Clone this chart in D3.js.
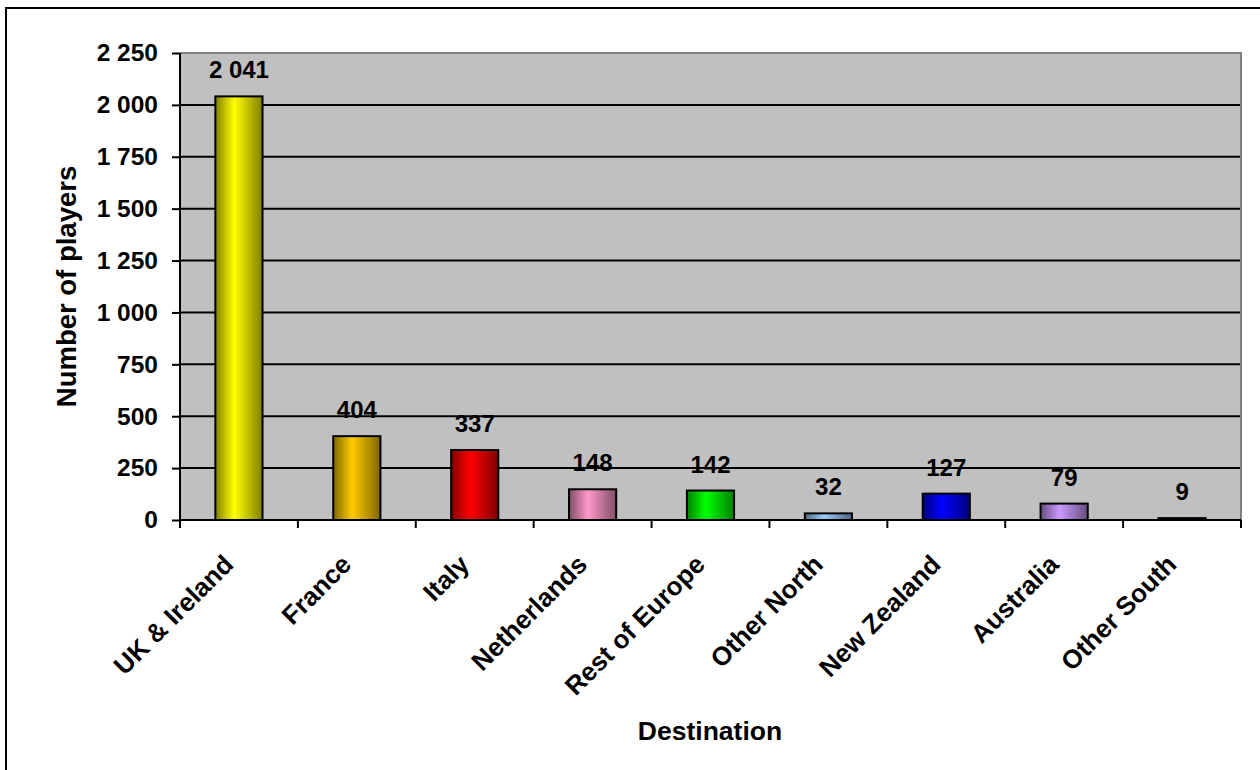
<!DOCTYPE html>
<html>
<head>
<meta charset="utf-8">
<script src="https://cdn.jsdelivr.net/npm/d3@7"></script>
<style>
  html, body { margin: 0; padding: 0; background: #fff; }
  svg { display: block; font-family: "Liberation Sans", Arial, sans-serif; font-weight: bold; }
</style>
</head>
<body>
<svg id="chart" width="1260" height="770"></svg>
<script>
// Players abroad by destination
const categories = ["UK & Ireland", "France", "Italy", "Netherlands", "Rest of Europe",
                    "Other North", "New Zealand", "Australia", "Other South"];
const players = [2041, 404, 337, 148, 142, 32, 127, 79, 9];
const barColors = ["#FFFF00", "#FFCC00", "#FF0000", "#FF99CC", "#00FF00",
                   "#99CCFF", "#0000FF", "#CC99FF", "#333333"];
const yTicks = [0, 250, 500, 750, 1000, 1250, 1500, 1750, 2000, 2250];

const svg = d3.select("#chart");
const plot = { left: 180, top: 53, right: 1241, bottom: 520 };

// thousands separated by a space: 2 041
const fmt = v => d3.format(",")(v).replace(/,/g, " ");

// outer chart frame
svg.append("rect")
  .attr("x", 6).attr("y", 8).attr("width", 1300).attr("height", 800)
  .attr("fill", "#fff").attr("stroke", "#000").attr("stroke-width", 2);

const x = d3.scaleBand().domain(categories)
  .range([plot.left, plot.right]).paddingInner(0.6).paddingOuter(0.3);
const y = d3.scaleLinear().domain([0, 2250]).range([plot.bottom, plot.top]);

// gradients: dark edges, bright band left of centre
const defs = svg.append("defs");
categories.forEach((c, i) => {
  const base = d3.color(barColors[i]);
  const dark = d3.interpolateRgb(barColors[i], "#000")(0.5);
  const g = defs.append("linearGradient").attr("id", "g" + i)
    .attr("x1", "0%").attr("x2", "100%").attr("y1", "0%").attr("y2", "0%");
  g.append("stop").attr("offset", "0%").attr("stop-color", dark);
  g.append("stop").attr("offset", "40%").attr("stop-color", base.formatHex());
  g.append("stop").attr("offset", "100%").attr("stop-color", dark);
});

// plot background
svg.append("rect")
  .attr("x", plot.left).attr("y", plot.top)
  .attr("width", plot.right - plot.left).attr("height", plot.bottom - plot.top)
  .attr("fill", "#C0C0C0");

// horizontal gridlines
svg.append("g").selectAll("line").data(yTicks.filter(t => t > 0 && t < 2250)).join("line")
  .attr("x1", plot.left).attr("x2", plot.right)
  .attr("y1", d => y(d)).attr("y2", d => y(d))
  .attr("stroke", "#000").attr("stroke-width", 2);

// plot border top/right
svg.append("path")
  .attr("d", `M${plot.left},${plot.top}H${plot.right}V${plot.bottom}`)
  .attr("fill", "none").attr("stroke", "#808080").attr("stroke-width", 2);

// bars
svg.append("g").selectAll("rect").data(categories).join("rect")
  .attr("x", d => x(d))
  .attr("width", x.bandwidth())
  .attr("y", (d, i) => y(players[i]))
  .attr("height", (d, i) => y(0) - y(players[i]))
  .attr("fill", (d, i) => `url(#g${i})`)
  .attr("stroke", "#000").attr("stroke-width", 2);

// value labels
svg.append("g").selectAll("text").data(categories).join("text")
  .attr("x", d => x(d) + x.bandwidth() / 2)
  .attr("y", (d, i) => y(players[i]) - 18)
  .attr("text-anchor", "middle")
  .attr("font-size", 24)
  .attr("fill", "#000")
  .text((d, i) => fmt(players[i]));

// y axis
const yAxis = svg.append("g").attr("transform", `translate(${plot.left},0)`)
  .call(d3.axisLeft(y).tickValues(yTicks).tickFormat(fmt).tickSize(8).tickPadding(14));
yAxis.select(".domain").attr("stroke", "#000").attr("stroke-width", 2)
  .attr("d", `M0,${plot.top}V${plot.bottom}`);
yAxis.selectAll(".tick line").attr("stroke", "#000").attr("stroke-width", 2);
yAxis.selectAll(".tick text").attr("font-size", 24.5).attr("fill", "#000")
  .attr("font-family", "Liberation Sans, Arial, sans-serif").attr("font-weight", "bold");

// x axis line with ticks between categories
const step = x.step();
const bounds = d3.range(categories.length + 1).map(k => plot.left + k * step);
svg.append("line")
  .attr("x1", plot.left).attr("x2", plot.right)
  .attr("y1", plot.bottom).attr("y2", plot.bottom)
  .attr("stroke", "#000").attr("stroke-width", 2);
svg.append("g").selectAll("line").data(bounds).join("line")
  .attr("x1", d => d).attr("x2", d => d)
  .attr("y1", plot.bottom).attr("y2", plot.bottom + 8)
  .attr("stroke", "#000").attr("stroke-width", 2);

// category labels rotated 45 degrees
svg.append("g").selectAll("text").data(categories).join("text")
  .attr("transform", d => `translate(${x(d) + x.bandwidth() / 2 - 4},${plot.bottom + 46}) rotate(-45)`)
  .attr("text-anchor", "end")
  .attr("font-size", 26)
  .attr("fill", "#000")
  .text(d => d);

// axis titles
svg.append("text")
  .attr("transform", `translate(76,${(plot.top + plot.bottom) / 2}) rotate(-90)`)
  .attr("text-anchor", "middle")
  .attr("font-size", 27.5)
  .text("Number of players");

svg.append("text")
  .attr("x", 710).attr("y", 740)
  .attr("text-anchor", "middle")
  .attr("font-size", 26.5)
  .text("Destination");
</script>
</body>
</html>
